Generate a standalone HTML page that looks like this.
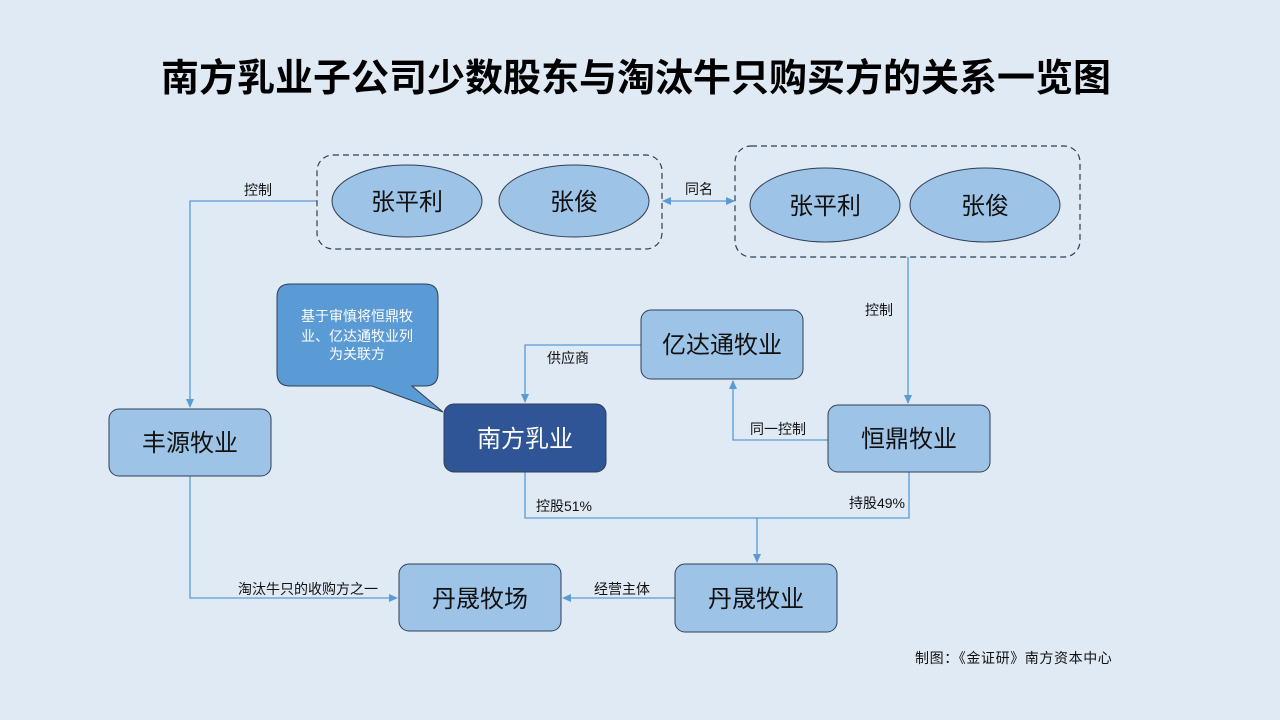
<!DOCTYPE html>
<html><head><meta charset="utf-8"><style>
html,body{margin:0;padding:0;background:#dfeaf5;}
svg{display:block;font-family:"Liberation Sans","Noto Sans CJK SC",sans-serif;}
</style></head><body>
<svg width="1280" height="720" viewBox="0 0 1280 720" xmlns="http://www.w3.org/2000/svg">
<defs>
<marker id="a" markerWidth="10" markerHeight="10" refX="8" refY="5" orient="auto" markerUnits="userSpaceOnUse">
<path d="M0,1 L9,5 L0,9 Z" fill="#5b9bd5"/></marker>
<marker id="as" markerWidth="10" markerHeight="10" refX="1" refY="5" orient="auto" markerUnits="userSpaceOnUse">
<path d="M9,1 L0,5 L9,9 Z" fill="#5b9bd5"/></marker>
</defs>
<rect width="1280" height="720" fill="#dfeaf5"/>
<text x="636" y="91" text-anchor="middle" font-size="38" font-weight="bold" fill="#000">南方乳业子公司少数股东与淘汰牛只购买方的关系一览图</text>

<g fill="none" stroke="#5b9bd5" stroke-width="1.3">
<path d="M317,201 H190 V407" marker-end="url(#a)"/>
<path d="M663,201 H734" marker-start="url(#as)" marker-end="url(#a)"/>
<path d="M908,257 V403" marker-end="url(#a)"/>
<path d="M641,345 H525 V402" marker-end="url(#a)"/>
<path d="M827,440 H733 V381" marker-start="url(#a)" marker-end="url(#a)"/>
<path d="M525,472 V518 H909 V472"/>
<path d="M757,518 V562" marker-end="url(#a)"/>
<path d="M675,598 H563" marker-end="url(#a)"/>
<path d="M190,476 V598 H397" marker-end="url(#a)"/>
</g>

<g fill="none" stroke="#2f3e56" stroke-width="1.2" stroke-dasharray="6,4">
<rect x="317" y="155" width="345" height="94" rx="16"/>
<rect x="735" y="146" width="345" height="111" rx="16"/>
</g>
<g fill="#9dc3e6" stroke="#2f3e56" stroke-width="1">
<ellipse cx="407" cy="201" rx="75" ry="36"/>
<ellipse cx="574" cy="201" rx="75" ry="36"/>
<ellipse cx="825" cy="205" rx="75" ry="37"/>
<ellipse cx="985" cy="205" rx="75" ry="37"/>
<rect x="109" y="409" width="162" height="67" rx="10"/>
<rect x="641" y="310" width="162" height="69" rx="10"/>
<rect x="828" y="405" width="162" height="67" rx="10"/>
<rect x="675" y="564" width="162" height="68" rx="10"/>
<rect x="399" y="564" width="162" height="67" rx="10"/>
</g>
<path d="M290,284 H425 Q438,284 438,297 V373 Q438,386 425,386 H412 L443,412 L372,386 H290 Q277,386 277,373 V297 Q277,284 290,284 Z" fill="#5b9bd5" stroke="#2f3e56" stroke-width="1"/>
<rect x="444" y="404" width="162" height="68" rx="10" fill="#2f5597" stroke="#2f3e56" stroke-width="1"/>

<g font-size="24" text-anchor="middle" fill="#111">
<text x="407" y="210">张平利</text>
<text x="574" y="210">张俊</text>
<text x="825" y="214">张平利</text>
<text x="985" y="214">张俊</text>
<text x="190" y="451">丰源牧业</text>
<text x="722" y="353">亿达通牧业</text>
<text x="909" y="447">恒鼎牧业</text>
<text x="756" y="607">丹晟牧业</text>
<text x="480" y="607">丹晟牧场</text>
<text x="525" y="447" fill="#fff">南方乳业</text>
</g>
<g font-size="14" text-anchor="middle" fill="#fff">
<text x="357" y="321">基于审慎将恒鼎牧</text>
<text x="357" y="341">业、亿达通牧业列</text>
<text x="357" y="359">为关联方</text>
</g>
<g font-size="14" fill="#111" text-anchor="middle">
<text x="258" y="195">控制</text>
<text x="699" y="194">同名</text>
<text x="879" y="315">控制</text>
<text x="568" y="363">供应商</text>
<text x="778" y="434">同一控制</text>
<text x="564" y="511">控股51%</text>
<text x="877" y="508">持股49%</text>
<text x="622" y="594">经营主体</text>
<text x="308" y="594">淘汰牛只的收购方之一</text>
</g>
<text x="915" y="663" font-size="14" letter-spacing="0.6" fill="#111">制图：《金证研》南方资本中心</text>
</svg>
</body></html>
